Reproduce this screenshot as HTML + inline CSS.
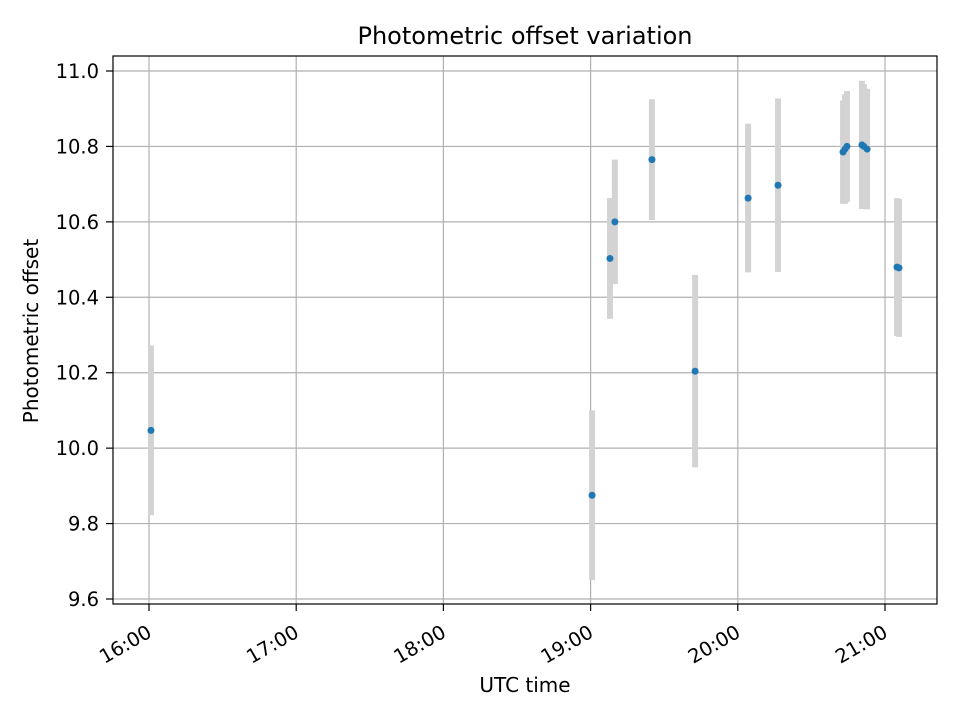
<!DOCTYPE html>
<html><head><meta charset="utf-8"><style>
body{margin:0;background:#fff;}
svg{font-family:"DejaVu Sans","Liberation Sans",sans-serif;}
</style></head><body>
<svg id="chart" width="960" height="720" viewBox="0 0 960 720">
<rect width="960" height="720" fill="#fff"/>
<g id="grid"></g>
<g id="bars"></g>
<g id="pts"></g>
<rect x="113" y="56" width="824" height="548" fill="none" stroke="#000" stroke-width="1.2"/>
<g id="axes"></g>
<text x="525" y="44" font-size="24" text-anchor="middle">Photometric offset variation</text>
<text x="525" y="692" font-size="20" text-anchor="middle">UTC time</text>
<text transform="translate(38,331) rotate(-90)" font-size="20" text-anchor="middle">Photometric offset</text>
</svg>
<script>
// minutes after 16:00
const times = [0.8, 180.6, 187.9, 189.9, 205.0, 222.6, 244.2, 256.4, 282.9, 283.7, 284.5, 290.6, 291.4, 292.7, 304.9, 305.7];
const values = [10.047, 9.875, 10.503, 10.60, 10.765, 10.204, 10.663, 10.697, 10.785, 10.793, 10.80, 10.804, 10.80, 10.793, 10.48, 10.478];
const errors = [0.225, 0.225, 0.16, 0.165, 0.16, 0.255, 0.197, 0.23, 0.137, 0.145, 0.147, 0.17, 0.165, 0.16, 0.183, 0.183];
const xTickMinutes = [0, 60, 120, 180, 240, 300];
const xTickLabels = ["16:00", "17:00", "18:00", "19:00", "20:00", "21:00"];
const yTicks = [9.6, 9.8, 10.0, 10.2, 10.4, 10.6, 10.8, 11.0];
const yTickLabels = ["9.6", "9.8", "10.0", "10.2", "10.4", "10.6", "10.8", "11.0"];

const NS = "http://www.w3.org/2000/svg";
const X = m => 149 + m * (147.2 / 60);
const Y = v => 71 + (11.0 - v) * (528 / 1.4);
function mk(tag, attrs, parent) {
  const e = document.createElementNS(NS, tag);
  for (const k in attrs) e.setAttribute(k, attrs[k]);
  parent.appendChild(e);
  return e;
}
const grid = document.getElementById('grid'), axes = document.getElementById('axes');
const bars = document.getElementById('bars'), pts = document.getElementById('pts');

xTickMinutes.forEach((m, i) => {
  const x = X(m);
  let g = mk('line', {x1: x, x2: x, y1: 56, y2: 604, stroke: '#b0b0b0', 'stroke-width': 1.2}, grid);
  
  
  let t = mk('line', {x1: x, x2: x, y1: 604, y2: 611, stroke: '#000', 'stroke-width': 1.2}, axes);
  
  
  let l = mk('text', {transform: `translate(${x + 4},${636}) rotate(-30)`, 'font-size': 19.5, 'text-anchor': 'end'}, axes);
  l.textContent = xTickLabels[i];
  
  
});
yTicks.forEach((v, i) => {
  const y = Y(v);
  let g = mk('line', {x1: 113, x2: 937, y1: y, y2: y, stroke: '#b0b0b0', 'stroke-width': 1.2}, grid);
  
  
  let t = mk('line', {x1: 106, x2: 113, y1: y, y2: y, stroke: '#000', 'stroke-width': 1.2}, axes);
  
  
  let l = mk('text', {x: 99, y: y + 7, 'font-size': 19.5, 'text-anchor': 'end'}, axes);
  l.textContent = yTickLabels[i];
  
  
});
times.forEach((m, i) => {
  const x = X(m);
  let b = mk('line', {x1: x, x2: x, y1: Y(values[i] + errors[i]), y2: Y(values[i] - errors[i]), stroke: '#d3d3d3', 'stroke-width': 6}, bars);
  
  
});
times.forEach((m, i) => {
  let c = mk('circle', {cx: X(m), cy: Y(values[i]), r: 3.5, fill: '#1f77b4'}, pts);
  
  
});
</script>
</body></html>
